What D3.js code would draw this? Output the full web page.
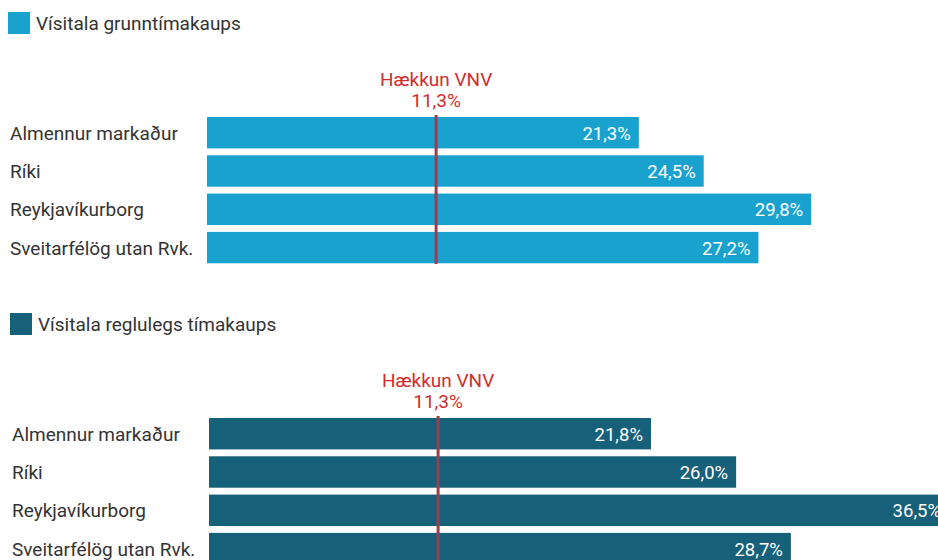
<!DOCTYPE html>
<html>
<head>
<meta charset="utf-8">
<script src="https://cdn.jsdelivr.net/npm/d3@7"></script>
<style>
  body { margin: 0; background: #fff; }
  text { font-family: Roboto, "Noto Sans", sans-serif; }
</style>
</head>
<body>
<svg id="viz"></svg>
<script>
// data
var categories = ["Almennur markaður", "Ríki", "Reykjavíkurborg", "Sveitarfélög utan Rvk."]
var grunnValues = [21.3, 24.5, 29.8, 27.2]
var reglulValues = [21.8, 26.0, 36.5, 28.7]
var seriesNames = ["Vísitala grunntímakaups", "Vísitala reglulegs tímakaups"]
var seriesColors = ["#1aa2cf", "#17607a"]
var vnvValue = 11.3
var vnvLabel = "Hækkun VNV"

var width = 938
var height = 560

var svg = d3.select("#viz")
	.attr("width", width)
	.attr("height", height)

function fmt(v) {
	return v.toFixed(1).replace(".", ",") + "%"
}

// one panel per series
function drawPanel(values, name, color, top, left) {

	var g = svg.append("g").attr("transform", "translate(0," + top + ")")

	// legend
	g.append("rect")
		.attr("x", left - 199)
		.attr("y", 0)
		.attr("width", 22)
		.attr("height", 22)
		.attr("fill", color)

	g.append("text")
		.attr("x", left - 171)
		.attr("y", 18)
		.attr("font-size", 19)
		.attr("fill", "#333")
		.text(name)

	var x = d3.scaleLinear().domain([0, 36.5]).range([left, left + 740])
	var y = d3.scaleBand().domain(categories).range([105, 251.3]).paddingInner(0.18).paddingOuter(0)

	g.selectAll(".bar")
		.data(values)
		.enter()
		.append("rect")
		.attr("class", "bar")
		.attr("x", x(0))
		.attr("y", (d, i) => y(categories[i]))
		.attr("width", d => x(d) - x(0))
		.attr("height", y.bandwidth())
		.attr("fill", color)

	g.selectAll(".cat")
		.data(categories)
		.enter()
		.append("text")
		.attr("class", "cat")
		.attr("x", left - 197)
		.attr("y", d => y(d) + y.bandwidth() / 2 + 7)
		.attr("font-size", 19)
		.attr("fill", "#333")
		.text(d => d)

	g.selectAll(".val")
		.data(values)
		.enter()
		.append("text")
		.attr("class", "val")
		.attr("x", d => x(d) - 8)
		.attr("y", (d, i) => y(categories[i]) + y.bandwidth() / 2 + 7)
		.attr("text-anchor", "end")
		.attr("font-size", 18.5)
		.attr("fill", "#fff")
		.text(d => fmt(d))

	// VNV reference line
	g.append("line")
		.attr("x1", x(vnvValue))
		.attr("x2", x(vnvValue))
		.attr("y1", 103)
		.attr("y2", 252)
		.attr("stroke", "#a03a4c")
		.attr("stroke-width", 3)

	g.append("text")
		.attr("x", x(vnvValue))
		.attr("y", 74)
		.attr("text-anchor", "middle")
		.attr("font-size", 19)
		.attr("fill", "#d22d2d")
		.text(vnvLabel)

	g.append("text")
		.attr("x", x(vnvValue))
		.attr("y", 95)
		.attr("text-anchor", "middle")
		.attr("font-size", 19)
		.attr("fill", "#d22d2d")
		.text(fmt(vnvValue))
}

drawPanel(grunnValues, seriesNames[0], seriesColors[0], 12, 207)
drawPanel(reglulValues, seriesNames[1], seriesColors[1], 313, 209)
</script>
</body>
</html>
